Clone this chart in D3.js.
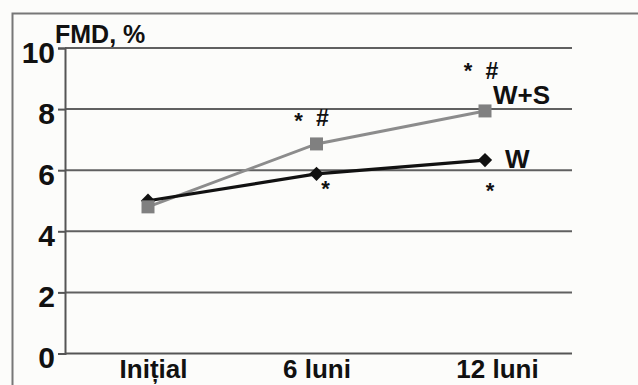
<!DOCTYPE html>
<html>
<head>
<meta charset="utf-8">
<script src="https://cdn.jsdelivr.net/npm/d3@7"></script>
<style>
  html, body { margin: 0; padding: 0; background: #fcfcfa; }
  svg { display: block; }
  text { font-family: "Liberation Sans", Arial, sans-serif; font-weight: bold; fill: #111; }
</style>
</head>
<body>
<svg id="chart" width="638" height="385"></svg>
<script>
// FMD (%) at baseline, 6 and 12 months for two groups
const categories = ["Inițial", "6 luni", "12 luni"];
const valuesW = [5.0, 5.88, 6.33];
const valuesWS = [4.8, 6.86, 7.94];
const yTicks = [0, 2, 4, 6, 8, 10];

// significance marks: category index, value they sit near, pixel offsets
const marks = [
  { cat: 1, v: 6.86, text: "*", dx: -18, dy: -28 },
  { cat: 1, v: 6.86, text: "#", dx: 6, dy: -26 },
  { cat: 1, v: 5.88, text: "*", dx: 9, dy: 10 },
  { cat: 2, v: 7.94, text: "*", dx: -17, dy: -45 },
  { cat: 2, v: 7.94, text: "#", dx: 7, dy: -40 },
  { cat: 2, v: 6.33, text: "*", dx: 5, dy: 26 }
];

const svg = d3.select("#chart");

// outer frame
svg.append("path")
  .attr("d", "M12.5,385 V13.5 H638")
  .attr("fill", "none")
  .attr("stroke", "#777")
  .attr("stroke-width", 2);

const x = d3.scalePoint().domain(categories).range([148, 485]);
const y = d3.scaleLinear().domain([0, 10]).range([353.5, 48]);
const plotLeft = 65, plotRight = 572;

// horizontal gridlines
svg.append("g")
  .selectAll("line")
  .data(yTicks.filter(d => d > 0))
  .join("line")
  .attr("x1", plotLeft).attr("x2", plotRight)
  .attr("y1", d => y(d)).attr("y2", d => y(d))
  .attr("stroke", "#606060")
  .attr("stroke-width", 2);

// y axis
const yAxis = svg.append("g")
  .attr("transform", `translate(${plotLeft},0)`)
  .call(d3.axisLeft(y).tickValues(yTicks).tickSize(7).tickPadding(3));
yAxis.select(".domain").attr("stroke", "#555").attr("stroke-width", 2);
yAxis.selectAll(".tick line").attr("stroke", "#555").attr("stroke-width", 2);
yAxis.selectAll(".tick text")
  .attr("font-size", 30)
  .attr("dy", "0.48em")
  .attr("font-family", "Liberation Sans, Arial, sans-serif")
  .attr("font-weight", "bold")
  .attr("fill", "#111");

// x axis baseline
svg.append("line")
  .attr("x1", plotLeft).attr("x2", plotRight)
  .attr("y1", y(0)).attr("y2", y(0))
  .attr("stroke", "#555").attr("stroke-width", 2);

// category labels
const xAxis = svg.append("g")
  .attr("transform", `translate(0,${y(0)})`)
  .call(d3.axisBottom(x).tickSize(0).tickPadding(5));
xAxis.select(".domain").remove();
xAxis.selectAll(".tick text")
  .attr("font-size", 26)
  .attr("dy", "0.75em")
  .attr("dx", (d, i) => [5, 0, 12][i])
  .attr("font-family", "Liberation Sans, Arial, sans-serif")
  .attr("font-weight", "bold")
  .attr("fill", "#111");

// axis title
svg.append("text")
  .attr("x", 55).attr("y", 43)
  .attr("font-size", 25)
  .text("FMD, %");

const line = d3.line()
  .x((d, i) => x(categories[i]))
  .y(d => y(d));

// W+S series (gray, squares)
svg.append("path")
  .datum(valuesWS)
  .attr("d", line)
  .attr("fill", "none")
  .attr("stroke", "#8c8c8c")
  .attr("stroke-width", 3);

// W series (black, diamonds)
svg.append("path")
  .datum(valuesW)
  .attr("d", line)
  .attr("fill", "none")
  .attr("stroke", "#111")
  .attr("stroke-width", 3.2);

svg.append("g")
  .selectAll("path")
  .data(valuesW)
  .join("path")
  .attr("transform", (d, i) => `translate(${x(categories[i])},${y(d)})`)
  .attr("d", d3.symbol(d3.symbolDiamond2, 130))
  .attr("fill", "#111");

svg.append("g")
  .selectAll("rect")
  .data(valuesWS)
  .join("rect")
  .attr("x", (d, i) => x(categories[i]) - 6.5)
  .attr("y", d => y(d) - 6.5)
  .attr("width", 13).attr("height", 13)
  .attr("fill", "#808080");

// series labels
svg.append("text")
  .attr("x", x(categories[2]) + 8).attr("y", y(valuesWS[2]) - 7)
  .attr("font-size", 26)
  .text("W+S");
svg.append("text")
  .attr("x", x(categories[2]) + 20).attr("y", y(valuesW[2]) + 8)
  .attr("font-size", 26)
  .text("W");

// significance marks
svg.append("g")
  .selectAll("text")
  .data(marks)
  .join("text")
  .attr("x", d => x(categories[d.cat]) + d.dx)
  .attr("y", d => y(d.v) + d.dy + (d.text === "*" ? 12 : 8))
  .attr("text-anchor", "middle")
  .attr("font-size", d => d.text === "*" ? 22 : 23)
  .text(d => d.text);
</script>
</body>
</html>
